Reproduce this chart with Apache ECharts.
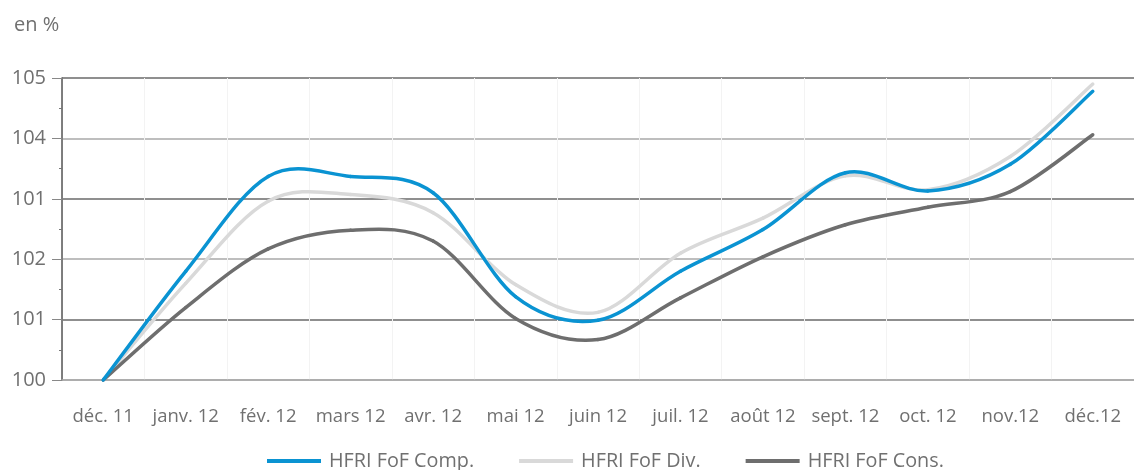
<!DOCTYPE html>
<html>
<head>
<meta charset="utf-8">
<script src="https://cdn.jsdelivr.net/npm/echarts@6/dist/echarts.min.js"></script>
<style>
html,body{margin:0;padding:0;background:#fff;}
#chart{width:1134px;height:470px;}
</style>
</head>
<body>
<div id="chart"></div>
<script>
const categories = ['déc. 11','janv. 12','fév. 12','mars 12','avr. 12','mai 12','juin 12','juil. 12','août 12','sept. 12','oct. 12','nov.12','déc.12'];
const seriesNames = ['HFRI FoF Comp.','HFRI FoF Div.','HFRI FoF Cons.'];
const compValues = [100, 101.80, 103.37, 103.37, 103.10, 101.38, 100.99, 101.80, 102.49, 103.43, 103.13, 103.57, 104.78];
const divValues  = [100, 101.60, 102.96, 103.07, 102.77, 101.58, 101.12, 102.10, 102.68, 103.38, 103.15, 103.70, 104.90];
const consValues = [100, 101.20, 102.17, 102.48, 102.30, 101.02, 100.67, 101.36, 102.04, 102.57, 102.86, 103.12, 104.06];
const yTickLabels = {100:'100',101:'101',102:'102',103:'101',104:'104',105:'105'};
const unitLabel = 'en %';

const colors = ['#0a93d2','#d9d9d9','#6e6e6e'];
const FONT = '"Open Sans", "Noto Sans", sans-serif';
const TXT = '#707070';

const chart = echarts.init(document.getElementById('chart'), null, {renderer:'canvas'});

// Smooth line drawn as Catmull-Rom segments, positions taken from the chart's own scales (api.coord)
function smoothSeries(name, values, color, z) {
  return {
    name, type:'custom', z, color, itemStyle:{color},
    data: values.map((v, i) => [i, v]),
    renderItem: function (params, api) {
      const i = params.dataIndex;
      if (i >= values.length - 1) return null;
      const n = values.length - 1;
      const P = k => { const j = Math.max(0, Math.min(n, k)); return api.coord([j, values[j]]); };
      const p0 = P(i - 1), p1 = P(i), p2 = P(i + 1), p3 = P(i + 2);
      const t = 6;
      return {
        type:'bezierCurve',
        shape:{
          x1:p1[0], y1:p1[1], x2:p2[0], y2:p2[1],
          cpx1:p1[0] + (p2[0] - p0[0]) / t, cpy1:p1[1] + (p2[1] - p0[1]) / t,
          cpx2:p2[0] - (p3[0] - p1[0]) / t, cpy2:p2[1] - (p3[1] - p1[1]) / t
        },
        style:{stroke:color, lineWidth:3.5, fill:null, lineCap:'round'}
      };
    }
  };
}

chart.setOption({
  animation:false,
  title:{text:unitLabel, left:9, top:10, textStyle:{fontFamily:FONT, fontSize:20, fontWeight:'normal', color:TXT}},
  grid:{left:62, top:78, width:1083, height:302},
  legend:{
    left:267, top:450, padding:0, icon:'rect', itemWidth:54, itemHeight:4, itemGap:45,
    textStyle:{fontFamily:FONT, fontSize:19.8, color:TXT, lineHeight:22, padding:[0,0,0,3]},
    data:seriesNames
  },
  xAxis:{
    type:'category', data:categories, boundaryGap:true,
    axisLine:{lineStyle:{color:'#a8a8a8', width:1.5}},
    axisTick:{length:17, lineStyle:{color:'#9a9a9a', width:1}},
    splitLine:{show:true, lineStyle:{color:'#f3f3f3', width:1}},
    axisLabel:{fontFamily:FONT, fontSize:18.5, color:TXT, margin:27, interval:0}
  },
  yAxis:{
    type:'value', min:100, max:105, interval:1,
    axisLine:{show:true, lineStyle:{color:'#555', width:1.5}},
    axisTick:{show:true, length:10, lineStyle:{color:'#888'}},
    minorTick:{show:true, splitNumber:2, length:3, lineStyle:{color:'#777'}},
    splitLine:{show:true, lineStyle:{color:['#a8a8a8','#6a6a6a'], width:1.5}},
    axisLabel:{fontFamily:FONT, fontSize:20, color:TXT, margin:16,
      formatter:v => yTickLabels[Math.round(v)] || ''}
  },
  series:[
    smoothSeries(seriesNames[0], compValues, colors[0], 4),
    smoothSeries(seriesNames[1], divValues, colors[1], 2),
    smoothSeries(seriesNames[2], consValues, colors[2], 3)
  ]
});
</script>
</body>
</html>
